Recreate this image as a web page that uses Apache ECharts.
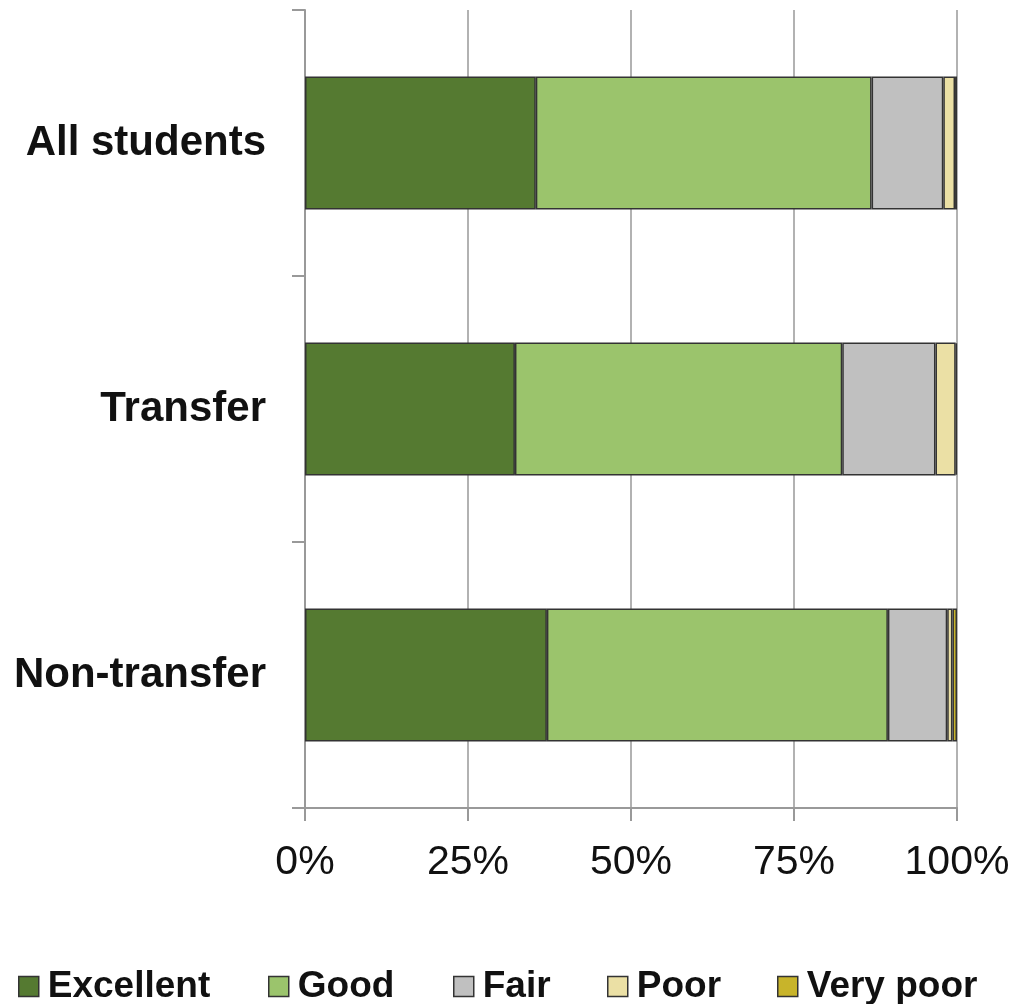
<!DOCTYPE html>
<html>
<head>
<meta charset="utf-8">
<script src="https://cdn.jsdelivr.net/npm/echarts@6/dist/echarts.min.js"></script>
<style>
  html, body { margin: 0; padding: 0; background: #fff; }
  #chart { width: 1027px; height: 1004px; }
</style>
</head>
<body>
<div id="chart"></div>
<script>
const categories = ['All students', 'Transfer', 'Non-transfer']
const excellent = [35.4, 32.2, 37.1]
const good = [51.5, 50.2, 52.3]
const fair = [11.0, 14.3, 9.1]
const poor = [1.8, 3.1, 0.8]
const veryPoor = [0.3, 0.2, 0.7]
const xTicks = [0, 25, 50, 75, 100]
const legendNames = ['Excellent', 'Good', 'Fair', 'Poor', 'Very poor']

const colors = ['#557a31', '#9bc46c', '#c0c0c0', '#ebe0a5', '#c8b42a']
const font = '"Liberation Sans", Arial, sans-serif'
// legend box positions (square edge minus the 5px legend padding)
const legendLeft = [13, 263, 448, 602, 772]

const makeSeries = (name, data) => ({
  name: name,
  type: 'bar',
  stack: 'total',
  barWidth: '50%',
  animation: false,
  itemStyle: { borderColor: '#333', borderWidth: 1.5 },
  data: data
})

const legends = legendNames.map((name, i) => ({
  left: legendLeft[i],
  bottom: -6,
  itemWidth: 20,
  itemHeight: 20,
  icon: 'rect',
  selectedMode: false,
  itemStyle: { borderColor: '#333', borderWidth: 1.5 },
  textStyle: { fontSize: 37, fontWeight: 'bold', color: '#111', padding: [0, 0, 0, 4] },
  data: [name]
}))

const chart = echarts.init(document.getElementById('chart'))
chart.setOption({
  color: colors,
  textStyle: { fontFamily: font },
  grid: { left: 305, right: 70, top: 10, bottom: 196, containLabel: false },
  xAxis: {
    type: 'value',
    min: xTicks[0],
    max: xTicks[xTicks.length - 1],
    interval: 25,
    axisLine: { show: true, lineStyle: { color: '#999', width: 2 } },
    axisTick: { show: true, length: 13, lineStyle: { color: '#999', width: 2 } },
    splitLine: { show: true, lineStyle: { color: '#999', width: 1.5 } },
    axisLabel: {
      margin: 34,
      fontSize: 41,
      color: '#111',
      formatter: v => v + '%'
    }
  },
  yAxis: {
    type: 'category',
    inverse: true,
    data: categories,
    axisLine: { show: true, lineStyle: { color: '#999', width: 2 } },
    axisTick: { show: true, length: 13, lineStyle: { color: '#999', width: 2 } },
    axisLabel: {
      margin: 39,
      fontSize: 42,
      fontWeight: 'bold',
      color: '#111'
    }
  },
  legend: legends,
  series: [
    makeSeries('Excellent', excellent),
    makeSeries('Good', good),
    makeSeries('Fair', fair),
    makeSeries('Poor', poor),
    makeSeries('Very poor', veryPoor)
  ]
})
</script>
</body>
</html>
